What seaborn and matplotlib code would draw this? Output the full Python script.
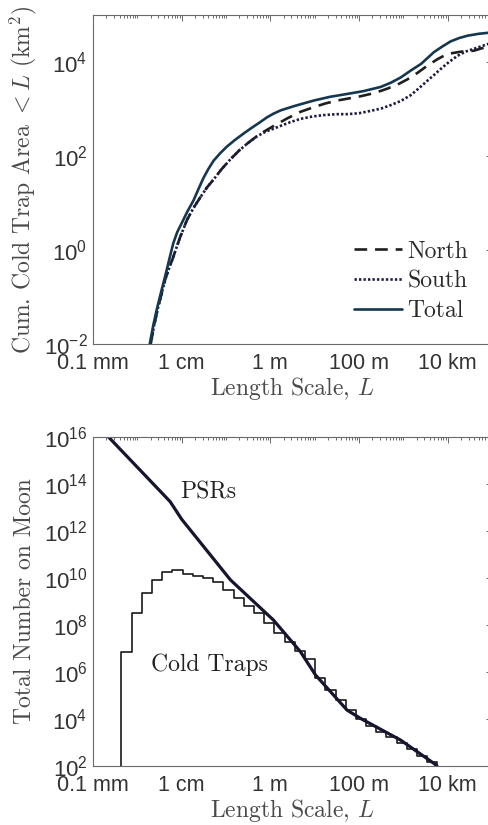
import numpy as np
import pandas as pd
import matplotlib
matplotlib.use("Agg")
import matplotlib.pyplot as plt
from matplotlib.ticker import FixedLocator, NullFormatter
import seaborn as sns

# ---------------- data (log10 values) ----------------
total_logL = [-2.72, -2.64, -2.56, -2.46, -2.37, -2.28, -2.19, -2.10, -2.00, -1.87, -1.73,
              -1.62, -1.51, -1.40, -1.28, -1.13, -0.98, -0.80, -0.60, -0.42, -0.23, -0.08,
              0.07, 0.23, 0.53, 0.98, 1.35, 1.73, 2.10, 2.49, 2.72, 2.94, 3.17, 3.40, 3.69,
              3.88, 4.07, 4.26, 4.45, 4.70, 5.00]
total_logA = [-2.00, -1.60, -1.26, -0.88, -0.55, -0.20, 0.14, 0.38, 0.57, 0.82, 1.06,
              1.30, 1.53, 1.72, 1.90, 2.06, 2.20, 2.34, 2.48, 2.60, 2.72, 2.82,
              2.90, 2.97, 3.06, 3.18, 3.26, 3.32, 3.38, 3.47, 3.56, 3.67, 3.82, 3.96, 4.21,
              4.33, 4.44, 4.51, 4.56, 4.60, 4.63]

north_logL = [-2.70, -2.62, -2.54, -2.45, -2.37, -2.28, -2.19, -2.04, -1.88, -1.73, -1.58,
              -1.43, -1.28, -1.10, -0.90, -0.70, -0.50, -0.25, 0.04, 0.38, 0.68, 0.98,
              1.25, 1.51, 2.03, 2.35, 2.63, 2.87, 3.09, 3.32, 3.54, 3.77, 3.99, 4.30,
              4.59, 4.80, 5.00]
north_logA = [-2.00, -1.60, -1.25, -0.92, -0.62, -0.38, -0.15, 0.26, 0.64, 0.90, 1.12,
              1.33, 1.50, 1.72, 1.93, 2.12, 2.28, 2.46, 2.62, 2.80, 2.94, 3.04,
              3.12, 3.18, 3.27, 3.34, 3.43, 3.52, 3.63, 3.77, 3.92, 4.06, 4.17, 4.22,
              4.24, 4.30, 4.36]

south_logL = [-2.70, -2.62, -2.54, -2.45, -2.37, -2.28, -2.19, -2.04, -1.88, -1.73, -1.58,
              -1.43, -1.28, -1.10, -0.90, -0.70, -0.50, -0.30, -0.10, 0.07, 0.23, 0.45,
              0.68, 0.95, 1.20, 1.50, 1.73, 2.00, 2.26, 2.50, 2.71, 2.94, 3.16, 3.35,
              3.54, 3.70, 3.84, 4.03, 4.22, 4.40, 4.59, 4.90, 5.00]
south_logA = [-2.00, -1.60, -1.25, -0.92, -0.62, -0.38, -0.15, 0.26, 0.64, 0.90, 1.12,
              1.33, 1.50, 1.72, 1.93, 2.12, 2.28, 2.42, 2.52, 2.58, 2.64, 2.72,
              2.79, 2.84, 2.87, 2.89, 2.89, 2.91, 2.96, 3.01, 3.08, 3.17, 3.29, 3.44,
              3.60, 3.73, 3.85, 4.00, 4.13, 4.22, 4.28, 4.38, 4.40]

psr_logL = [-3.65, -2.26, -2.00, -0.90, 0.07, 0.68, 1.02, 1.73, 2.03, 2.94, 3.69, 3.76]
psr_logN = [16.0, 13.25, 12.50, 9.92, 8.21, 6.86, 5.87, 4.38, 4.03, 3.10, 2.11, 2.00]

bin_edges_logL = [-3.36, -3.13, -2.90, -2.67, -2.44, -2.21, -1.98, -1.75, -1.52, -1.29,
                  -1.06, -0.83, -0.60, -0.37, -0.14, 0.09, 0.32, 0.55, 0.78, 1.01,
                  1.24, 1.47, 1.70, 1.93, 2.16, 2.39, 2.62, 2.85, 3.08, 3.31, 3.54, 3.77]
cold_logN = [6.84, 8.52, 9.35, 9.91, 10.24, 10.33, 10.17, 10.09, 9.99, 9.82,
             9.49, 9.13, 8.82, 8.50, 8.07, 7.67, 7.26, 6.91, 6.54, 5.74,
             5.23, 4.81, 4.38, 3.99, 3.70, 3.46, 3.22, 2.97, 2.71, 2.43, 2.18]

x_tick_vals = [1e-4, 1e-2, 1e0, 1e2, 1e4]
x_tick_labels = ["0.1 mm", "1 cm", "1 m", "100 m", "10 km"]

# ---------------- style ----------------
sns.set_theme(style="white")
plt.rcParams["font.family"] = ["Liberation Sans", "DejaVu Sans"]
plt.rcParams["mathtext.fontset"] = "custom"
plt.rcParams["mathtext.rm"] = "Liberation Sans"
plt.rcParams["mathtext.it"] = "Liberation Sans:italic"
plt.rcParams["mathtext.bf"] = "Liberation Sans:bold"

TICK_C = "#333333"
LABEL_C = "#4a4a4a"
SPINE_C = "#6a6a6a"

fig = plt.figure(figsize=(4.88, 8.25), dpi=100)
ax1 = fig.add_axes([93/488, 1-344/825, 399/488, 329/825])
ax2 = fig.add_axes([93/488, 1-766/825, 399/488, 329/825])

# ---------------- top panel ----------------
df_n = pd.DataFrame({"L": 10**np.array(north_logL), "A": 10**np.array(north_logA)})
df_s = pd.DataFrame({"L": 10**np.array(south_logL), "A": 10**np.array(south_logA)})
df_t = pd.DataFrame({"L": 10**np.array(total_logL), "A": 10**np.array(total_logA)})

sns.lineplot(data=df_n, x="L", y="A", ax=ax1, color="#1f1f1f", lw=1.9,
             linestyle=(0, (4.8, 3.0)), label="North", estimator=None, sort=False)
sns.lineplot(data=df_s, x="L", y="A", ax=ax1, color="#1c1c40", lw=1.9,
             linestyle=(0, (0.9, 0.8)), label="South", estimator=None, sort=False)
sns.lineplot(data=df_t, x="L", y="A", ax=ax1, color="#15374f", lw=1.9,
             label="Total", estimator=None, sort=False)

ax1.set_xscale("log")
ax1.set_yscale("log")
ax1.set_xlim(1e-4, 1e5)
ax1.set_ylim(1e-2, 1e5)

leg = ax1.legend(loc="center left", bbox_to_anchor=(0.655, 0.19), frameon=False,
                 prop={"family": "cmr10", "size": 17}, handlelength=2.0,
                 handletextpad=0.25, labelspacing=0.33, borderpad=0, borderaxespad=0)
for t in leg.get_texts():
    t.set_color("#2a2a2a")

# ---------------- bottom panel ----------------
df_p = pd.DataFrame({"L": 10**np.array(psr_logL), "N": 10**np.array(psr_logN)})

# step outline of the cold-trap histogram (steps-post)
edges = 10**np.array(bin_edges_logL)
heights = 10**np.array(cold_logN)
floor = 1e1
step_x = np.concatenate([[edges[0]], edges, [edges[-1]]])
step_y = np.concatenate([[floor], heights, [heights[-1], floor]])
df_c = pd.DataFrame({"L": step_x, "N": step_y})

sns.lineplot(data=df_c, x="L", y="N", ax=ax2, color="#1a1a1a", lw=1.2,
             drawstyle="steps-post", estimator=None, sort=False)
sns.lineplot(data=df_p, x="L", y="N", ax=ax2, color="#15152e", lw=2.3,
             estimator=None, sort=False)

ax2.set_xscale("log")
ax2.set_yscale("log")
ax2.set_xlim(1e-4, 1e5)
ax2.set_ylim(1e2, 1e16)

ax2.text(10**-1.40, 10**13.66, "PSRs", ha="center", va="center",
         fontfamily="cmr10", fontsize=17, color="#222222")
ax2.text(10**-1.38, 10**6.30, "Cold Traps", ha="center", va="center",
         fontfamily="cmr10", fontsize=17, color="#222222")

# ---------------- axes cosmetics ----------------
def style_axis(ax, ymin_exp, ymax_exp, ylabel, ylab_x):
    ax.xaxis.set_major_locator(FixedLocator(x_tick_vals))
    ax.set_xticklabels(x_tick_labels)
    minor_x = [m * 10**e for e in range(-5, 6) for m in range(1, 10)
               if (m * 10**e) not in x_tick_vals]
    ax.xaxis.set_minor_locator(FixedLocator(minor_x))
    ax.xaxis.set_minor_formatter(NullFormatter())

    ymaj = [10.0**e for e in range(ymin_exp, ymax_exp + 1, 2)]
    ax.yaxis.set_major_locator(FixedLocator(ymaj))
    ax.set_yticklabels([r"$10^{%d}$" % e for e in range(ymin_exp, ymax_exp + 1, 2)])
    minor_y = [m * 10.0**e for e in range(ymin_exp - 1, ymax_exp + 2) for m in range(1, 10)
               if not (m == 1 and (e - ymin_exp) % 2 == 0)]
    ax.yaxis.set_minor_locator(FixedLocator(minor_y))
    ax.yaxis.set_minor_formatter(NullFormatter())

    ax.tick_params(which="both", direction="in", top=True, right=True,
                   color=SPINE_C, width=0.7)
    ax.tick_params(which="major", length=4.5)
    ax.tick_params(which="minor", length=2.2)
    ax.tick_params(axis="x", which="major", labelsize=15.5, labelcolor=TICK_C, pad=6.5)
    ax.tick_params(axis="y", which="major", labelsize=16, labelcolor=TICK_C, pad=4)
    for sp in ax.spines.values():
        sp.set_color(SPINE_C)
        sp.set_linewidth(0.8)
        sp.set_visible(True)

    ax.set_xlabel(r"Length Scale, $L$", fontfamily="cmr10", math_fontfamily="cm",
                  fontsize=17, color=LABEL_C, labelpad=0.5)
    ax.set_ylabel(ylabel, fontfamily="cmr10", math_fontfamily="cm",
                  fontsize=17, color=LABEL_C)
    ax.yaxis.set_label_coords(ylab_x, 0.5)

style_axis(ax1, -2, 4, r"Cum. Cold Trap Area $<L$ (km$^2$)", -0.135)
style_axis(ax2, 2, 16, r"Total Number on Moon", -0.143)

fig.savefig("out.png", dpi=100)
